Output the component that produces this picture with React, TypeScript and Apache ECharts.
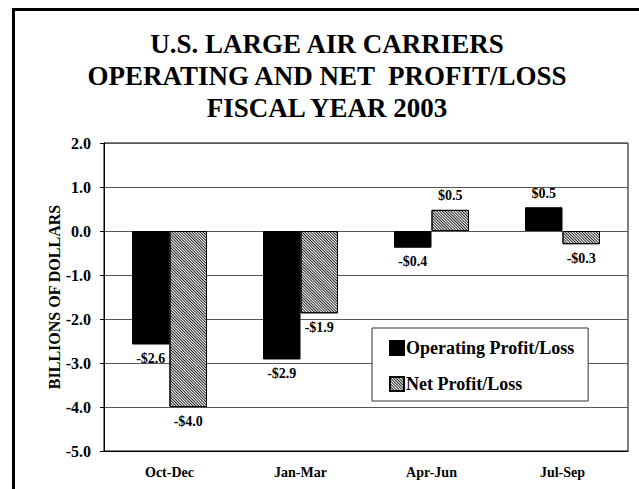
import React, { useEffect, useRef } from "react";
import * as echarts from "echarts";

const titleLines = [
  "U.S. LARGE AIR CARRIERS",
  "OPERATING AND NET  PROFIT/LOSS",
  "FISCAL YEAR 2003",
];
const categories = ["Oct-Dec", "Jan-Mar", "Apr-Jun", "Jul-Sep"];
const operatingValues = [-2.58, -2.92, -0.38, 0.54];
const netValues = [-4.0, -1.87, 0.48, -0.3];
const seriesNames = ["Operating Profit/Loss", "Net Profit/Loss"];
const yAxisName = "BILLIONS OF DOLLARS";
const yMin = -5;
const yMax = 2;
const yInterval = 1;

const FONT = "'Liberation Serif', 'Times New Roman', serif";

function fmtMoney(v: number): string {
  return (v < 0 ? "-$" : "$") + Math.abs(v).toFixed(1);
}

function toData(values: number[]) {
  return values.map((v) => ({
    value: v,
    label: { position: v < 0 ? "bottom" : "top" },
  }));
}

export default function App() {
  const ref = useRef<HTMLDivElement>(null);
  useEffect(() => {
    if (!ref.current) return;
    const chart = echarts.init(ref.current, undefined, { renderer: "svg" });
    const labelStyle = {
      show: true,
      distance: 7,
      fontFamily: FONT,
      fontWeight: "bold",
      fontSize: 14,
      color: "#000",
      formatter: (p: any) => fmtMoney(p.value),
    };
    chart.setOption({
      animation: false,
      backgroundColor: "#fff",
      graphic: [
        {
          type: "rect",
          shape: { x: 13.5, y: 9.5, width: 800, height: 800 },
          style: { fill: "none", stroke: "#000", lineWidth: 3 },
          silent: true,
          z: 100,
        },
        {
          type: "text",
          x: 327,
          y: 28,
          style: {
            text: titleLines.join("\n"),
            textAlign: "center",
            textVerticalAlign: "top",
            font: `bold 27px ${FONT}`,
            lineHeight: 32,
            fill: "#000",
          },
        },
      ],
      grid: {
        left: 104,
        right: 11,
        top: 143,
        bottom: 38,
        show: true,
        borderColor: "#000",
        borderWidth: 1,
        containLabel: false,
      },
      legend: {
        orient: "vertical",
        left: 372,
        top: 328,
        padding: [11, 14, 8, 17],
        itemGap: 18,
        itemWidth: 14,
        itemHeight: 14,
        icon: "rect",
        backgroundColor: "#fff",
        borderColor: "#333",
        borderWidth: 1,
        borderRadius: 0,
        textStyle: {
          fontFamily: FONT,
          fontWeight: "bold",
          fontSize: 18,
          color: "#000",
          padding: [0, 0, 0, -3],
        },
        data: seriesNames,
      },
      xAxis: {
        type: "category",
        data: categories,
        axisLine: { onZero: false, lineStyle: { color: "#000", width: 1 } },
        axisTick: { show: false },
        axisLabel: {
          margin: 14,
          fontFamily: FONT,
          fontWeight: "bold",
          fontSize: 14,
          color: "#000",
        },
      },
      yAxis: {
        type: "value",
        min: yMin,
        max: yMax,
        interval: yInterval,
        name: yAxisName,
        nameLocation: "middle",
        nameRotate: 90,
        nameGap: 42,
        nameMoveOverlap: false,
        nameTextStyle: {
          fontFamily: FONT,
          fontWeight: "bold",
          fontSize: 16,
          color: "#000",
        },
        axisLine: { show: true, lineStyle: { color: "#000", width: 1 } },
        axisTick: {
          show: true,
          length: 4,
          lineStyle: { color: "#000" },
        },
        axisLabel: {
          margin: 13,
          fontFamily: FONT,
          fontWeight: "bold",
          fontSize: 16,
          color: "#000",
          formatter: (v: number) => v.toFixed(1),
        },
        splitLine: { lineStyle: { color: "#555", width: 1 } },
      },
      series: [
        {
          name: seriesNames[0],
          type: "bar",
          barWidth: 37.5,
          barGap: "0%",
          data: toData(operatingValues),
          itemStyle: { color: "#000", borderColor: "#000", borderWidth: 1 },
          label: labelStyle,
        },
        {
          name: seriesNames[1],
          type: "bar",
          barWidth: 37.5,
          barGap: "0%",
          data: toData(netValues),
          itemStyle: {
            color: "#fff",
            borderColor: "#000",
            borderWidth: 1,
            decal: {
              symbol: "rect",
              symbolSize: 1,
              color: "#222",
              dashArrayX: [1, 0],
              dashArrayY: [1, 1],
              rotation: Math.PI / 4,
            },
          },
          label: labelStyle,
        },
      ],
    });
    return () => chart.dispose();
  }, []);
  return (
    <div
      ref={ref}
      style={{ position: "fixed", left: 0, top: 0, width: 639, height: 489 }}
    />
  );
}
